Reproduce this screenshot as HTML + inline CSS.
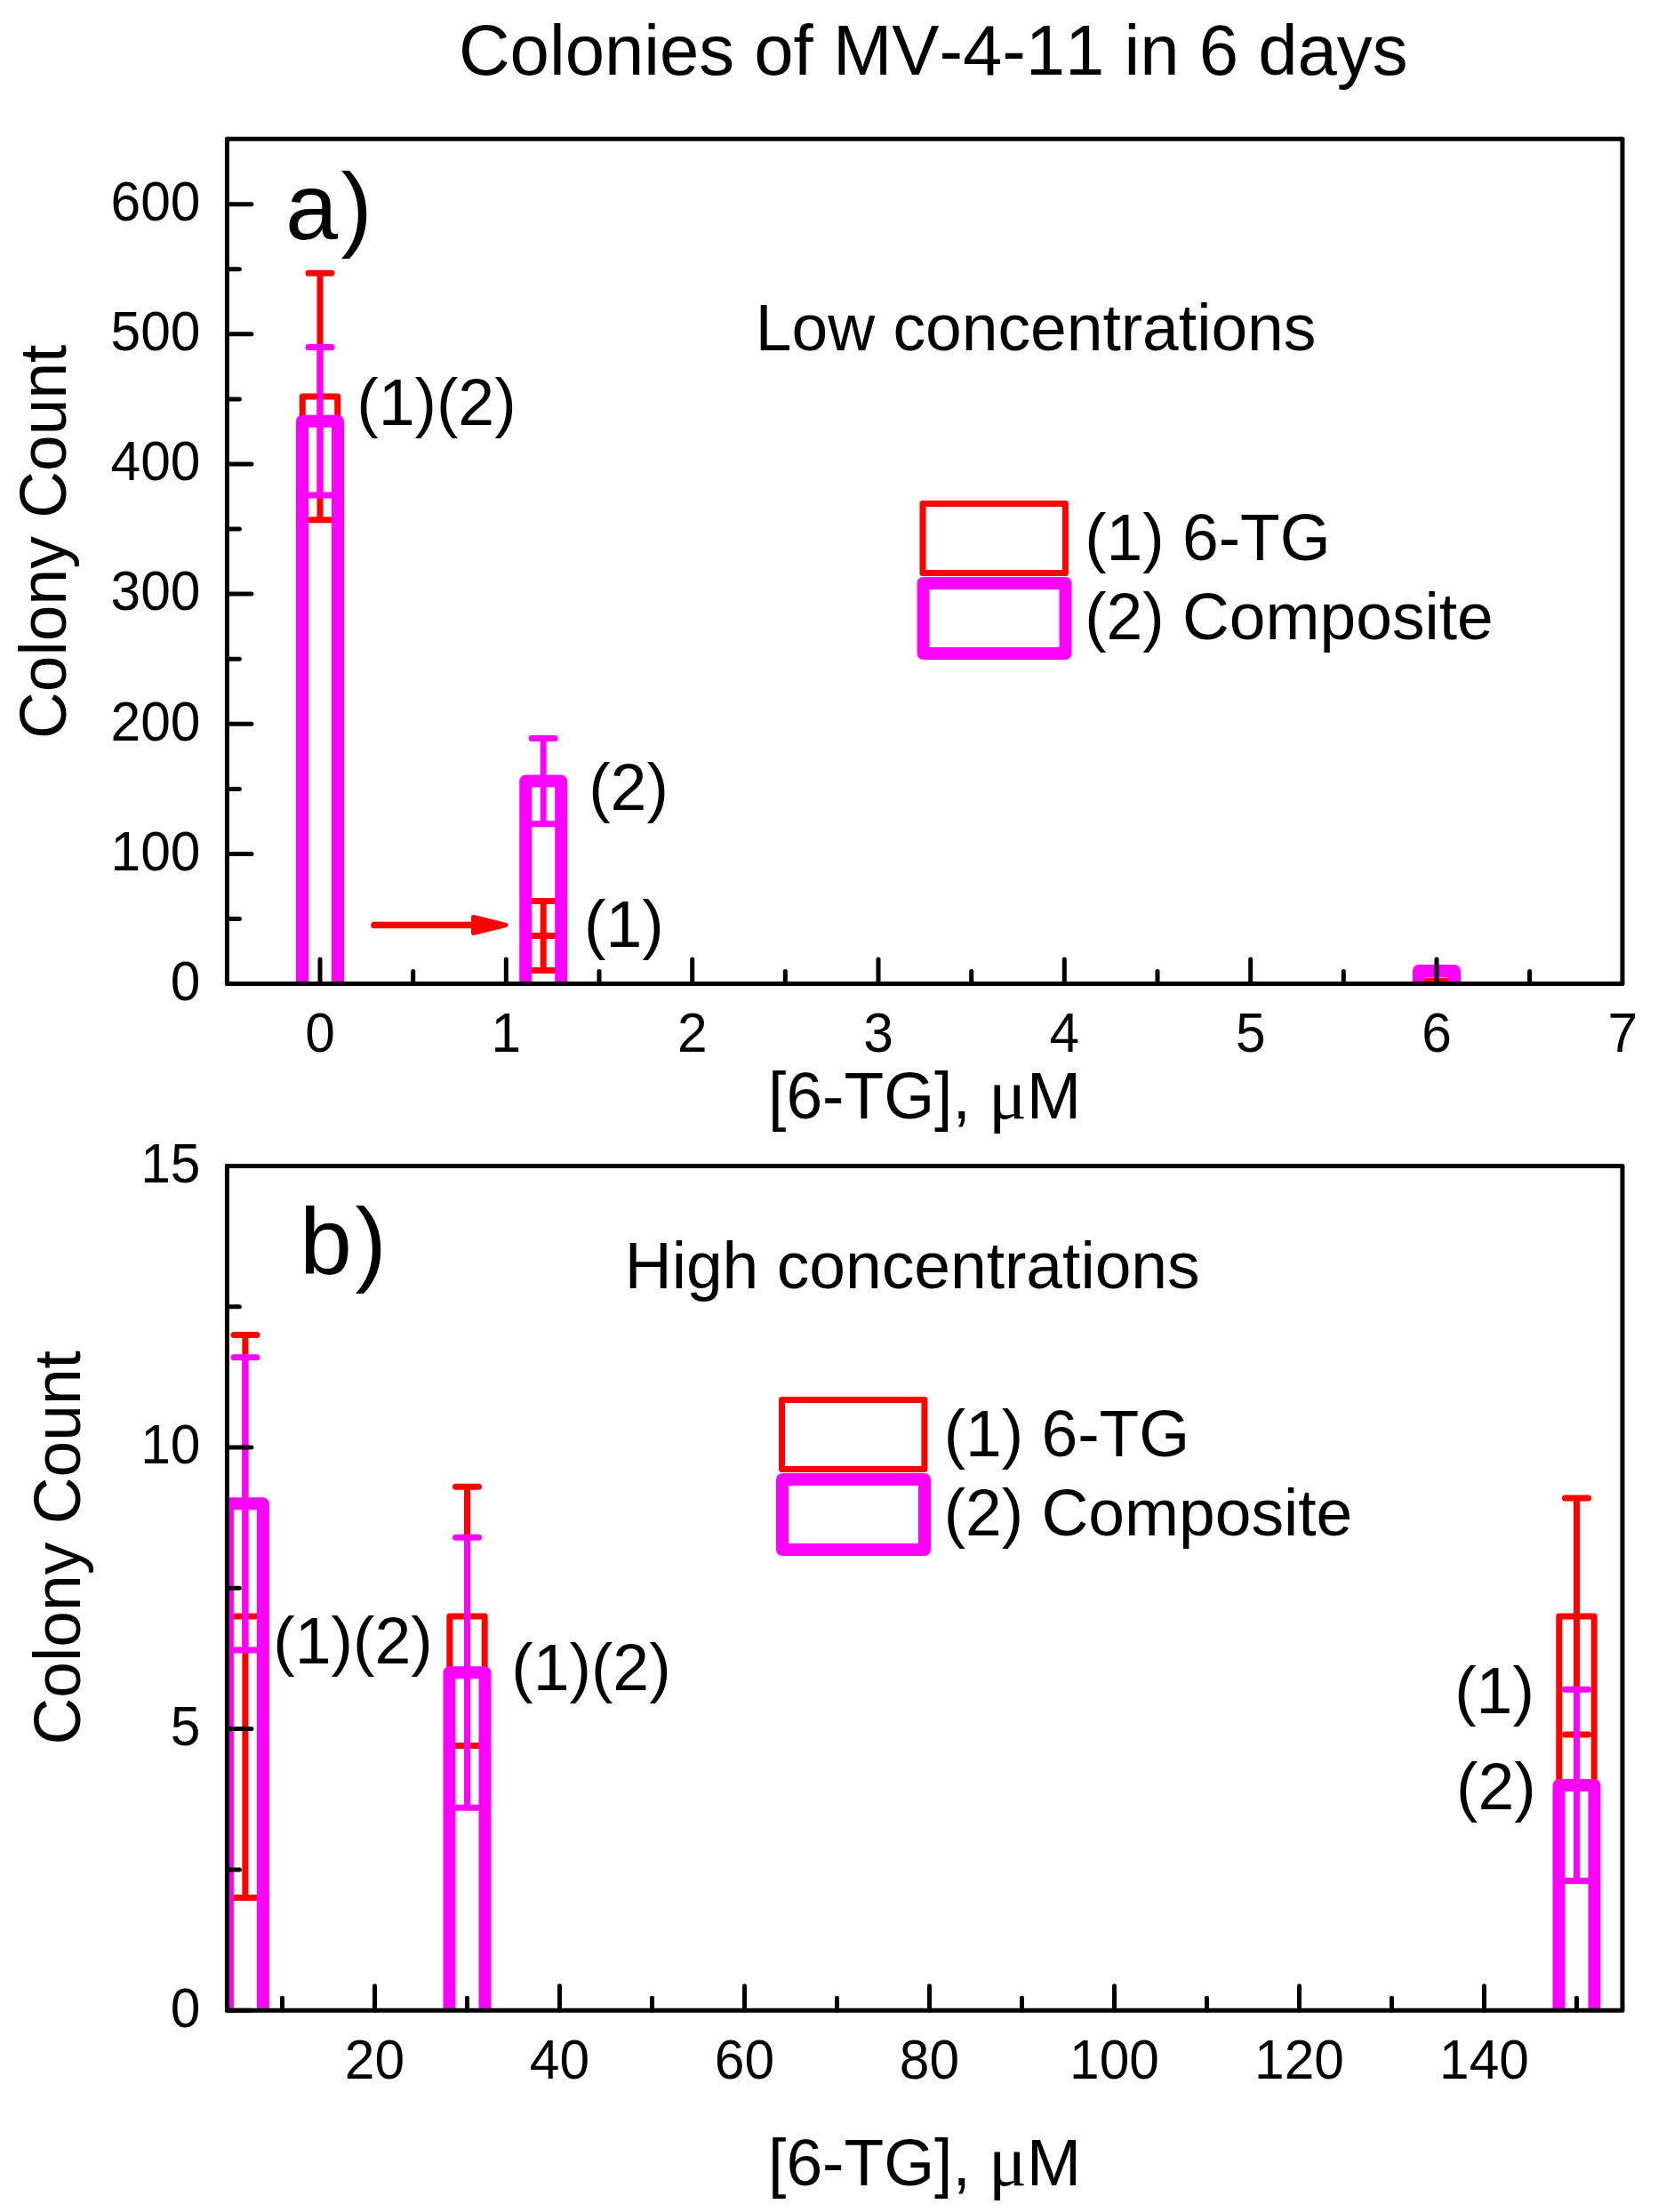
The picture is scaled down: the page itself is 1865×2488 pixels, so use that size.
<!DOCTYPE html>
<html><head><meta charset="utf-8"><title>Colonies of MV-4-11 in 6 days</title>
<style>
html,body{margin:0;padding:0;background:#fff}
svg{display:block}
text{font-kerning:none;font-family:"Liberation Sans",Arial,sans-serif;fill:#000}
.mu{font-family:"Liberation Serif",serif}
</style></head><body>
<svg width="1865" height="2488" viewBox="0 0 1865 2488">
<rect width="1865" height="2488" fill="#fff"/>
<clipPath id="ca"><rect x="255.4" y="156.2" width="1569.6" height="950.3999999999999"/></clipPath>
<g clip-path="url(#ca)" fill="none" stroke-linejoin="round">
<rect x="340.3" y="446.0" width="39.4" height="680.6" stroke="#ff0000" stroke-width="7"/>
<path d="M360.0 307.2V584.8M347.0 307.2h26M347.0 584.8h26" stroke="#ff0000" stroke-width="7" stroke-linecap="round"/>
<rect x="591.5" y="1052.5" width="39.4" height="74.1" stroke="#ff0000" stroke-width="7"/>
<path d="M611.2 1013.6V1091.4M598.2 1013.6h26M598.2 1091.4h26" stroke="#ff0000" stroke-width="7" stroke-linecap="round"/>
<rect x="1596.3" y="1103.2" width="39.4" height="23.4" stroke="#ff0000" stroke-width="7"/>
<path d="M1616.0 1103.2V1103.2M1603.0 1103.2h26M1603.0 1103.2h26" stroke="#ff0000" stroke-width="7" stroke-linecap="round"/>
<rect x="340.0" y="473.8" width="40.0" height="652.8" stroke="#ff00ff" stroke-width="14"/>
<path d="M360.0 390.5V557.1M347.0 390.5h26M347.0 557.1h26" stroke="#ff00ff" stroke-width="7" stroke-linecap="round"/>
<rect x="591.2" y="878.6" width="40.0" height="248.0" stroke="#ff00ff" stroke-width="14"/>
<path d="M611.2 830.4V926.8M598.2 830.4h26M598.2 926.8h26" stroke="#ff00ff" stroke-width="7" stroke-linecap="round"/>
<rect x="1596.0" y="1092.0" width="40.0" height="34.6" stroke="#ff00ff" stroke-width="14"/>
<path d="M1616.0 1092.0V1092.0M1603.0 1092.0h26M1603.0 1092.0h26" stroke="#ff00ff" stroke-width="7" stroke-linecap="round"/>
</g>
<g stroke="#000" stroke-width="5" fill="none" stroke-linecap="round" stroke-linejoin="round">
<path d="M255.4 1106.6h27.5M255.4 960.4h27.5M255.4 814.3h27.5M255.4 668.1h27.5M255.4 522.0h27.5M255.4 375.8h27.5M255.4 229.7h27.5M255.4 1033.5h14M255.4 887.4h14M255.4 741.2h14M255.4 595.1h14M255.4 448.9h14M255.4 302.8h14M360.0 1106.6v-27.5M569.3 1106.6v-27.5M778.7 1106.6v-27.5M988.0 1106.6v-27.5M1197.3 1106.6v-27.5M1406.7 1106.6v-27.5M1616.0 1106.6v-27.5M464.7 1106.6v-14M674.0 1106.6v-14M883.3 1106.6v-14M1092.7 1106.6v-14M1302.0 1106.6v-14M1511.3 1106.6v-14M1720.6 1106.6v-14"/>
<rect x="255.4" y="156.2" width="1569.6" height="950.3999999999999"/>
</g>
<clipPath id="cb"><rect x="255.4" y="1311.5" width="1569.6" height="949.6999999999998"/></clipPath>
<g clip-path="url(#cb)" fill="none" stroke-linejoin="round">
<rect x="256.2" y="1818.0" width="39.4" height="463.2" stroke="#ff0000" stroke-width="7"/>
<path d="M275.9 1501.4V2134.6M262.9 1501.4h26M262.9 2134.6h26" stroke="#ff0000" stroke-width="7" stroke-linecap="round"/>
<rect x="505.8" y="1818.0" width="39.4" height="463.2" stroke="#ff0000" stroke-width="7"/>
<path d="M525.5 1672.3V1963.6M512.5 1672.3h26M512.5 1963.6h26" stroke="#ff0000" stroke-width="7" stroke-linecap="round"/>
<rect x="1753.8" y="1818.0" width="39.4" height="463.2" stroke="#ff0000" stroke-width="7"/>
<path d="M1773.5 1685.0V1950.9M1760.5 1685.0h26M1760.5 1950.9h26" stroke="#ff0000" stroke-width="7" stroke-linecap="round"/>
<rect x="255.9" y="1691.3" width="40.0" height="589.9" stroke="#ff00ff" stroke-width="14"/>
<path d="M275.9 1526.7V1856.0M262.9 1526.7h26M262.9 1856.0h26" stroke="#ff00ff" stroke-width="7" stroke-linecap="round"/>
<rect x="505.5" y="1881.3" width="40.0" height="399.9" stroke="#ff00ff" stroke-width="14"/>
<path d="M525.5 1729.3V2033.2M512.5 1729.3h26M512.5 2033.2h26" stroke="#ff00ff" stroke-width="7" stroke-linecap="round"/>
<rect x="1753.5" y="2007.9" width="40.0" height="273.3" stroke="#ff00ff" stroke-width="14"/>
<path d="M1773.5 1900.3V2115.6M1760.5 1900.3h26M1760.5 2115.6h26" stroke="#ff00ff" stroke-width="7" stroke-linecap="round"/>
</g>
<g stroke="#000" stroke-width="5" fill="none" stroke-linecap="round" stroke-linejoin="round">
<path d="M255.4 2261.2h27.5M255.4 1944.6h27.5M255.4 1628.0h27.5M255.4 1311.4h27.5M255.4 2102.9h14M255.4 1786.3h14M255.4 1469.7h14M421.5 2261.2v-27.5M629.5 2261.2v-27.5M837.5 2261.2v-27.5M1045.5 2261.2v-27.5M1253.5 2261.2v-27.5M1461.5 2261.2v-27.5M1669.5 2261.2v-27.5M317.5 2261.2v-14M525.5 2261.2v-14M733.5 2261.2v-14M941.5 2261.2v-14M1149.5 2261.2v-14M1357.5 2261.2v-14M1565.5 2261.2v-14M1773.5 2261.2v-14"/>
<rect x="255.4" y="1311.5" width="1569.6" height="949.6999999999998"/>
</g>
<text transform="translate(225.5,1124.9) scale(1,1.045)" font-size="60.5" text-anchor="end">0</text>
<text transform="translate(225.5,978.7) scale(1,1.045)" font-size="60.5" text-anchor="end">100</text>
<text transform="translate(225.5,832.6) scale(1,1.045)" font-size="60.5" text-anchor="end">200</text>
<text transform="translate(225.5,686.4) scale(1,1.045)" font-size="60.5" text-anchor="end">300</text>
<text transform="translate(225.5,540.3) scale(1,1.045)" font-size="60.5" text-anchor="end">400</text>
<text transform="translate(225.5,394.1) scale(1,1.045)" font-size="60.5" text-anchor="end">500</text>
<text transform="translate(225.5,248.0) scale(1,1.045)" font-size="60.5" text-anchor="end">600</text>
<text transform="translate(360.0,1183.0) scale(1,1.045)" font-size="60.5" text-anchor="middle">0</text>
<text transform="translate(569.3,1183.0) scale(1,1.045)" font-size="60.5" text-anchor="middle">1</text>
<text transform="translate(778.7,1183.0) scale(1,1.045)" font-size="60.5" text-anchor="middle">2</text>
<text transform="translate(988.0,1183.0) scale(1,1.045)" font-size="60.5" text-anchor="middle">3</text>
<text transform="translate(1197.3,1183.0) scale(1,1.045)" font-size="60.5" text-anchor="middle">4</text>
<text transform="translate(1406.7,1183.0) scale(1,1.045)" font-size="60.5" text-anchor="middle">5</text>
<text transform="translate(1616.0,1183.0) scale(1,1.045)" font-size="60.5" text-anchor="middle">6</text>
<text transform="translate(1825.3,1183.0) scale(1,1.045)" font-size="60.5" text-anchor="middle">7</text>
<text transform="translate(225.5,2279.5) scale(1,1.045)" font-size="60.5" text-anchor="end">0</text>
<text transform="translate(225.5,1962.9) scale(1,1.045)" font-size="60.5" text-anchor="end">5</text>
<text transform="translate(225.5,1646.3) scale(1,1.045)" font-size="60.5" text-anchor="end">10</text>
<text transform="translate(225.5,1329.7) scale(1,1.045)" font-size="60.5" text-anchor="end">15</text>
<text transform="translate(421.5,2338.3) scale(1,1.045)" font-size="60.5" text-anchor="middle">20</text>
<text transform="translate(629.5,2338.3) scale(1,1.045)" font-size="60.5" text-anchor="middle">40</text>
<text transform="translate(837.5,2338.3) scale(1,1.045)" font-size="60.5" text-anchor="middle">60</text>
<text transform="translate(1045.5,2338.3) scale(1,1.045)" font-size="60.5" text-anchor="middle">80</text>
<text transform="translate(1253.5,2338.3) scale(1,1.045)" font-size="60.5" text-anchor="middle">100</text>
<text transform="translate(1461.5,2338.3) scale(1,1.045)" font-size="60.5" text-anchor="middle">120</text>
<text transform="translate(1669.5,2338.3) scale(1,1.045)" font-size="60.5" text-anchor="middle">140</text>
<text transform="translate(1049.8,83.5)" font-size="79.7" text-anchor="middle">Colonies of MV-4-11 in 6 days</text>
<text transform="translate(73.8,609.3) rotate(-90)" font-size="73.2" text-anchor="middle">Colony Count</text>
<text transform="translate(89.8,1740.8) rotate(-90)" font-size="73.2" text-anchor="middle">Colony Count</text>
<text transform="translate(1040.0,1257.7)" font-size="73.2" text-anchor="middle">[6-TG], <tspan class="mu" font-size="80">μ</tspan>M</text>
<text transform="translate(1040.0,2457.6)" font-size="73.2" text-anchor="middle">[6-TG], <tspan class="mu" font-size="80">μ</tspan>M</text>
<text transform="translate(321.0,269.3)" font-size="106" text-anchor="start">a<tspan dx="3.5">)</tspan></text>
<text transform="translate(337.1,1433.2)" font-size="106" text-anchor="start">b<tspan dx="3.5">)</tspan></text>
<text transform="translate(849.8,393.7)" font-size="73.2" text-anchor="start">Low concentrations</text>
<text transform="translate(702.8,1449.4)" font-size="73.2" text-anchor="start">High concentrations</text>
<rect x="1038" y="566.6" width="160.4" height="77.8" fill="none" stroke="#ff0000" stroke-width="7" stroke-linejoin="round"/>
<rect x="1038.5" y="656" width="160" height="79" fill="none" stroke="#ff00ff" stroke-width="14" stroke-linejoin="round"/>
<text transform="translate(1220.2,629.5)" font-size="73.2" text-anchor="start">(1) 6-TG</text>
<text transform="translate(1220.2,719.4)" font-size="73.2" text-anchor="start">(2) Composite</text>
<rect x="879.5" y="1574.6" width="160.4" height="77.8" fill="none" stroke="#ff0000" stroke-width="7" stroke-linejoin="round"/>
<rect x="880.0" y="1664" width="160" height="79" fill="none" stroke="#ff00ff" stroke-width="14" stroke-linejoin="round"/>
<text transform="translate(1061.7,1637.5)" font-size="73.2" text-anchor="start">(1) 6-TG</text>
<text transform="translate(1061.7,1727.4)" font-size="73.2" text-anchor="start">(2) Composite</text>
<text transform="translate(490.9,477.9)" font-size="73.4" text-anchor="middle">(1)(2)</text>
<text transform="translate(707.0,910.5)" font-size="73.4" text-anchor="middle">(2)</text>
<text transform="translate(701.9,1065.4)" font-size="73.4" text-anchor="middle">(1)</text>
<text transform="translate(397.0,1870.7)" font-size="73.4" text-anchor="middle">(1)(2)</text>
<text transform="translate(664.9,1900.7)" font-size="73.4" text-anchor="middle">(1)(2)</text>
<text transform="translate(1681.0,1927.0)" font-size="73.4" text-anchor="middle">(1)</text>
<text transform="translate(1682.8,2035.3)" font-size="73.4" text-anchor="middle">(2)</text>
<path d="M421 1040.5H535" stroke="#ff0000" stroke-width="7.5" stroke-linecap="round" fill="none"/>
<path d="M532.5 1031.5L569 1040.5L532.5 1049.5Z" fill="#ff0000" stroke="#ff0000" stroke-width="5" stroke-linejoin="round"/>
</svg></body></html>
